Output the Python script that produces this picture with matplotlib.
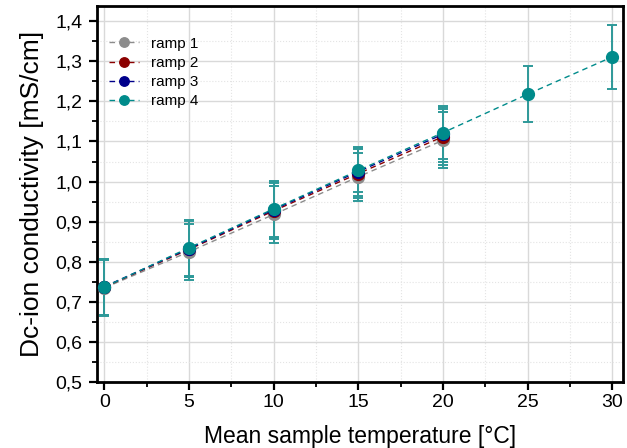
import numpy as np
import matplotlib.pyplot as plt
from matplotlib.ticker import MultipleLocator, FuncFormatter

plt.rcParams['font.family'] = ['Liberation Sans', 'DejaVu Sans']

temp = [0, 5, 10, 15, 20, 25, 30]
ramp1 = [0.735, 0.825, 0.918, 1.012, 1.103]
ramp2 = [0.737, 0.831, 0.927, 1.020, 1.112]
ramp3 = [0.738, 0.833, 0.930, 1.025, 1.118]
ramp4 = [0.737, 0.835, 0.932, 1.028, 1.122, 1.218, 1.311]
err1 = [0.07, 0.07, 0.07, 0.06, 0.07]
err2 = [0.07, 0.07, 0.07, 0.06, 0.07]
err3 = [0.07, 0.07, 0.07, 0.06, 0.07]
err4 = [0.07, 0.07, 0.07, 0.055, 0.065, 0.07, 0.08]

series = [('ramp 1', ramp1, err1, '#8c8c8c'),
          ('ramp 2', ramp2, err2, '#8b0000'),
          ('ramp 3', ramp3, err3, '#00008b'),
          ('ramp 4', ramp4, err4, '#008b8b')]

fig, ax = plt.subplots(figsize=(6.27, 4.48), dpi=100)

# error bars first, then the dashed lines with markers on top
for name, vals, err, col in series:
    x = temp[:len(vals)]
    ax.errorbar(x, vals, yerr=err, fmt='none', ecolor='#2e9999',
                elinewidth=1.4, capsize=3.5, capthick=1.4, zorder=2)
for name, vals, err, col in series:
    x = temp[:len(vals)]
    ax.plot(x, vals, linestyle=(0, (4, 3)), color=col, lw=1.0,
            marker='o', markersize=8.5, markeredgecolor=col, label=name,
            zorder=3)

ax.set_xlim(-0.42, 30.6)
ax.set_ylim(0.5, 1.437)
ax.xaxis.set_major_locator(MultipleLocator(5))
ax.xaxis.set_minor_locator(MultipleLocator(2.5))
ax.yaxis.set_major_locator(MultipleLocator(0.1))
ax.yaxis.set_minor_locator(MultipleLocator(0.05))
ax.yaxis.set_major_formatter(FuncFormatter(lambda v, p: f'{v:.1f}'.replace('.', ',')))
ax.grid(which='major', color='#d9d9d9', lw=1.0)
ax.grid(which='minor', color='#e4e4e4', lw=0.8, linestyle=':')
ax.set_axisbelow(True)
ax.tick_params(which='major', direction='out', length=5.5, width=1.6,
               labelsize=14)
ax.tick_params(which='minor', direction='out', length=3.5, width=1.3)
ax.tick_params(axis='x', which='major', pad=3)
ax.tick_params(axis='y', which='major', pad=5)
for s in ax.spines.values():
    s.set_linewidth(2)

ax.set_xlabel('Mean sample temperature [°C]', fontsize=16.5, labelpad=10)
ax.set_ylabel('Dc-ion conductivity [mS/cm]', fontsize=19, labelpad=8)

ax.legend(loc='upper left', frameon=False, fontsize=11, handlelength=2.0,
          labelspacing=0.33, markerscale=0.8, borderaxespad=0.0,
          bbox_to_anchor=(0.01, 0.935))

fig.subplots_adjust(left=0.155, right=0.993, top=0.986, bottom=0.147)
fig.savefig('out.png', dpi=100)
